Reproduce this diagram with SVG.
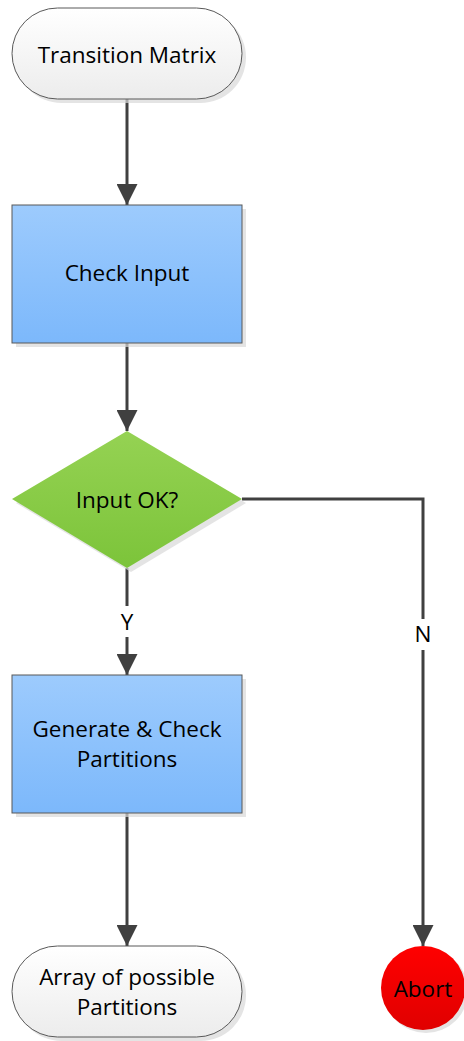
<svg xmlns="http://www.w3.org/2000/svg" width="464" height="1041" viewBox="0 0 464 1041">
  <style>
    .lbl { font-family: "Open Sans", "Noto Sans", sans-serif; font-size: 22.5px; fill: #000; text-anchor: middle; }
    .shadow { fill: #d9d9d9; opacity: 0.7; }
    .edge { fill: none; stroke: #404040; stroke-width: 3; }
    .outline { stroke: #595959; stroke-width: 1; }
  </style>
  <defs>
    <linearGradient id="termFill" x1="0" y1="0" x2="0" y2="1">
      <stop offset="0" stop-color="#ffffff"/>
      <stop offset="1" stop-color="#ececec"/>
    </linearGradient>
    <linearGradient id="procFill" x1="0" y1="0" x2="0" y2="1">
      <stop offset="0" stop-color="#9dcbfd"/>
      <stop offset="1" stop-color="#7cb8fb"/>
    </linearGradient>
    <linearGradient id="decFill" x1="0" y1="0" x2="0" y2="1">
      <stop offset="0" stop-color="#95d253"/>
      <stop offset="1" stop-color="#7cc43a"/>
    </linearGradient>
    <linearGradient id="stopFill" x1="0" y1="0" x2="0" y2="1">
      <stop offset="0" stop-color="#ff0000"/>
      <stop offset="1" stop-color="#e00000"/>
    </linearGradient>
    <marker id="arrow" viewBox="0 0 10 10" refX="10" refY="5" markerWidth="7" markerHeight="7" markerUnits="strokeWidth" orient="auto">
      <path d="M0,0 L10,5 L0,10 Z" fill="#404040"/>
    </marker>
  </defs>

  <!-- connectors -->
  <g id="connectors">
    <line class="edge" x1="127" y1="99" x2="127" y2="205" marker-end="url(#arrow)"/>
    <line class="edge" x1="127" y1="343" x2="127" y2="431" marker-end="url(#arrow)"/>
    <line class="edge" x1="127" y1="568" x2="127" y2="606"/>
    <line class="edge" x1="127" y1="637" x2="127" y2="675" marker-end="url(#arrow)"/>
    <text class="lbl" x="127" y="630">Y</text>
    <line class="edge" x1="127" y1="813" x2="127" y2="946" marker-end="url(#arrow)"/>
    <polyline class="edge" points="242,499 423,499 423,619"/>
    <line class="edge" x1="423" y1="650" x2="423" y2="946" marker-end="url(#arrow)"/>
    <text class="lbl" x="423" y="642">N</text>
  </g>

  <g id="start">
    <rect class="shadow" x="16" y="12" width="230" height="91" rx="45.5"/>
    <rect class="outline" x="12" y="8" width="230" height="91" rx="45.5" fill="url(#termFill)"/>
    <text class="lbl" x="127" y="63">Transition Matrix</text>
  </g>

  <g id="check-input">
    <rect class="shadow" x="16" y="209" width="230" height="138"/>
    <rect class="outline" x="12" y="205" width="230" height="138" fill="url(#procFill)"/>
    <text class="lbl" x="127" y="281">Check Input</text>
  </g>

  <g id="input-ok">
    <polygon class="shadow" points="131,435 246,503 131,572 16,503"/>
    <polygon points="127,431 242,499 127,568 12,499" fill="url(#decFill)"/>
    <text class="lbl" x="127" y="508">Input OK?</text>
  </g>

  <g id="generate">
    <rect class="shadow" x="16" y="679" width="230" height="138"/>
    <rect class="outline" x="12" y="675" width="230" height="138" fill="url(#procFill)"/>
    <text class="lbl" x="127" y="737">Generate &amp; Check</text>
    <text class="lbl" x="127" y="767">Partitions</text>
  </g>

  <g id="result">
    <rect class="shadow" x="16" y="950" width="230" height="91" rx="45.5"/>
    <rect class="outline" x="12" y="946" width="230" height="91" rx="45.5" fill="url(#termFill)"/>
    <text class="lbl" x="127" y="985">Array of possible</text>
    <text class="lbl" x="127" y="1015">Partitions</text>
  </g>

  <g id="abort">
    <circle class="shadow" cx="426" cy="991" r="42"/>
    <circle cx="423" cy="988" r="42" fill="url(#stopFill)"/>
    <text class="lbl" x="423" y="997">Abort</text>
  </g>
</svg>
